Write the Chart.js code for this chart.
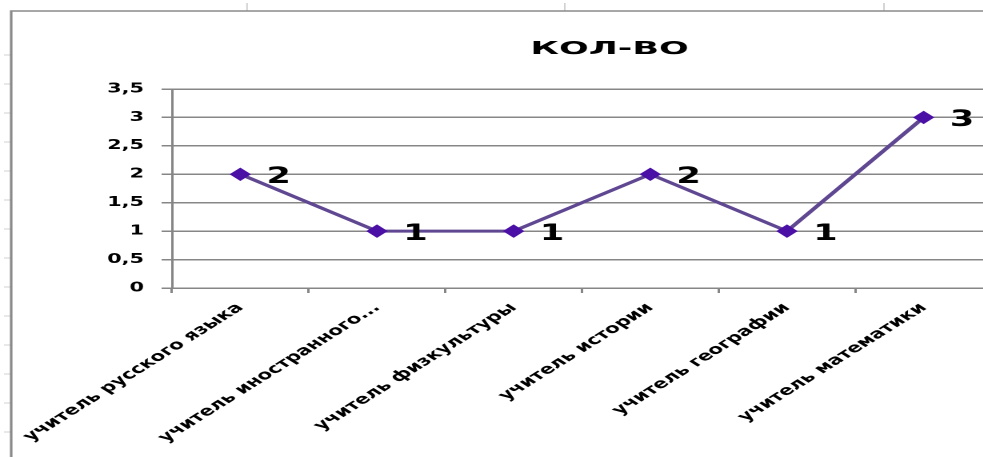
<!DOCTYPE html>
<html>
<head>
<meta charset="utf-8">
<script src="https://cdn.jsdelivr.net/npm/chart.js@4/dist/chart.umd.min.js"></script>
<style>
  html, body { margin: 0; padding: 0; background: #ffffff; overflow: hidden; width: 983px; height: 457px; }
  #wrap { position: absolute; left: 0; top: 0; width: 762px; height: 457px; transform: scaleX(1.6); transform-origin: 0 0; }
  canvas { display: block; }
</style>
</head>
<body>
<div id="wrap"><canvas id="c" width="762" height="457" style="width:762px;height:457px"></canvas></div>
<script>
const chartTitle = "КОЛ-ВО";
const categories = [
  "учитель русского языка",
  "учитель иностранного...",
  "учитель физкультуры",
  "учитель истории",
  "учитель географии",
  "учитель математики"
];
const seriesValues = [2, 1, 1, 2, 1, 3];
const yTickMin = 0;
const yTickMax = 3.5;
const yTickStep = 0.5;

const FONT = "'DejaVu Sans', Verdana, sans-serif";
const GRID = "#868686";

// chart frame and the faint sheet-grid marks around it
const frame = {
  id: "frame",
  beforeDraw(chart) {
    const ctx = chart.ctx;
    ctx.save();
    ctx.strokeStyle = "#d0d0d0";
    ctx.lineWidth = 1;
    ctx.beginPath();
    [154.4, 353, 552.5].forEach(x => { ctx.moveTo(x, 3); ctx.lineTo(x, 11); });
    for (let y = 55; y < 457; y += 29) { ctx.moveTo(2.5, y); ctx.lineTo(6.5, y); }
    ctx.stroke();
    ctx.strokeStyle = "#8a8a8a";
    ctx.lineWidth = 1.6;
    ctx.beginPath();
    ctx.moveTo(7, 457);
    ctx.lineTo(7, 11);
    ctx.lineTo(chart.width, 11);
    ctx.stroke();
    ctx.restore();
  }
};

// title drawn slightly widened like the source picture
const titleText = {
  id: "titleText",
  afterDraw(chart) {
    const ctx = chart.ctx;
    ctx.save();
    ctx.translate(381, 49.5);
    ctx.scale(1.25, 1);
    ctx.font = "bold 17.5px " + FONT;
    ctx.fillStyle = "#000000";
    ctx.textAlign = "center";
    ctx.textBaseline = "middle";
    ctx.fillText(chartTitle, 0, 0);
    ctx.restore();
  }
};

const valueLabels = {
  id: "valueLabels",
  afterDatasetsDraw(chart) {
    const ctx = chart.ctx;
    const meta = chart.getDatasetMeta(0);
    ctx.save();
    ctx.font = "bold 22px " + FONT;
    ctx.fillStyle = "#000000";
    ctx.textAlign = "center";
    ctx.textBaseline = "middle";
    meta.data.forEach((pt, i) => {
      ctx.fillText(String(chart.data.datasets[0].data[i]), pt.x + 24, pt.y + 3);
    });
    ctx.restore();
  }
};

new Chart(document.getElementById("c"), {
  type: "line",
  data: {
    labels: categories,
    datasets: [{
      label: chartTitle,
      data: seriesValues,
      borderColor: "#5f4791",
      borderWidth: 3,
      tension: 0,
      pointStyle: "rectRot",
      pointRadius: 6,
      pointHoverRadius: 6,
      pointBackgroundColor: "#4b10a6",
      pointBorderColor: "#4b10a6",
      pointBorderWidth: 1,
      fill: false
    }]
  },
  options: {
    responsive: false,
    maintainAspectRatio: false,
    animation: false,
    devicePixelRatio: 2,
    layout: { padding: { left: 0, right: 142, top: 89, bottom: 0 } },
    plugins: {
      legend: { display: false },
      tooltip: { enabled: false },
      title: { display: false }
    },
    scales: {
      x: {
        type: "category",
        offset: true,
        afterFit(scale) { scale.height = 169; },
        grid: {
          display: true,
          drawOnChartArea: false,
          offset: true,
          tickLength: 5,
          color: GRID,
          lineWidth: 1.5
        },
        border: { display: true, color: GRID, width: 1.5 },
        ticks: {
          autoSkip: false,
          maxRotation: 45,
          minRotation: 45,
          padding: 7,
          color: "#000000",
          font: { family: FONT, size: 13.5, weight: "bold" }
        }
      },
      y: {
        min: yTickMin,
        max: yTickMax,
        afterFit(scale) { scale.width = 107.5; },
        grid: {
          color: GRID,
          lineWidth: 1.5,
          tickLength: 6.5,
          drawTicks: true
        },
        border: { display: true, color: GRID, width: 1.5 },
        ticks: {
          stepSize: yTickStep,
          padding: 11,
          color: "#000000",
          font: { family: FONT, size: 13, weight: "bold" },
          callback: (v) => String(v).replace(".", ",")
        }
      }
    }
  },
  plugins: [frame, valueLabels, titleText]
});
</script>
</body>
</html>
